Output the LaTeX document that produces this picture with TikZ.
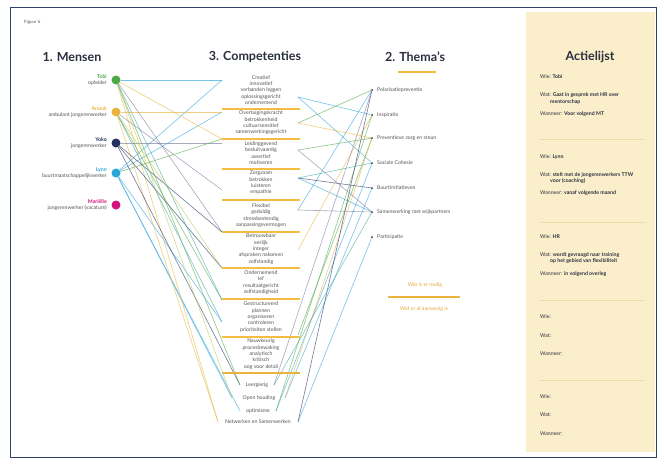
\documentclass[tikz,border=0pt]{standalone}
\usepackage{fontspec}
\setmainfont{Lato}
\definecolor{cgreen}{HTML}{4FA847}
\definecolor{cgold}{HTML}{E9B43C}
\definecolor{cnavy}{HTML}{24325E}
\definecolor{cblue}{HTML}{2AA5DC}
\definecolor{cmag}{HTML}{D4137E}
\definecolor{cgray}{HTML}{7A7A9C}
\definecolor{cteal}{HTML}{3FA7A0}
\definecolor{cyg}{HTML}{BACB4E}
\definecolor{sepc}{HTML}{F2BE3F}
\definecolor{framec}{HTML}{2E4466}
\definecolor{panelc}{HTML}{FBEFCB}
\definecolor{psep}{HTML}{EADBA8}
\definecolor{txtgray}{HTML}{555555}
\definecolor{ttlc}{HTML}{2B3040}
\definecolor{orangetxt}{HTML}{E9A93A}
\begin{document}
\begin{tikzpicture}[x=1pt,y=-1pt,
  ln/.style={line width=0.6pt, opacity=0.65},
  small/.style={font=\fontsize{5.2}{6.3}\selectfont, text=txtgray, inner sep=0pt},
  smallb/.style={font=\fontsize{5.2}{6.3}\selectfont\bfseries, inner sep=0pt},
  ttl/.style={font=\fontsize{12.5}{14}\selectfont\bfseries, text=ttlc, inner sep=0pt},
  grp/.style={small, align=center},
  sepl/.style={draw=sepc, line width=1.8pt},
  dot/.style={circle, inner sep=0pt, minimum size=9pt},
  tmark/.style={circle, fill=ttlc, inner sep=0pt, minimum size=2pt},
  act/.style={small, anchor=west, align=left, text=ttlc},
  psepl/.style={draw=psep, line width=0.6pt}
]
\useasboundingbox (0,0) rectangle (664,464);
\fill[white] (0,0) rectangle (664,464);
\draw[framec, line width=1pt] (10,7) rectangle (656,457);
\fill[panelc] (526,12) rectangle (655,452);

\node[small, anchor=west, font=\fontsize{4.5}{5}\selectfont] (fig) at (24,22) {Figuur 6};

% titles
\node[ttl] (tm) at (72,57) {1. Mensen};
\node[ttl] (tc) at (255,57) {3. Competenties};
\node[ttl] (tt) at (415,57) {2. Thema's};
\node[ttl] (ta) at (590,57) {Actielijst};
\draw[sepl, line width=1.2pt] (398,72) -- (436,72);

% people dots
\node[dot, fill=cgreen] (p1) at (116,80) {};
\node[dot, fill=cgold] (p2) at (116,112) {};
\node[dot, fill=cnavy] (p3) at (116,143) {};
\node[dot, fill=cblue] (p4) at (116,173) {};
\node[dot, fill=cmag] (p5) at (116,205) {};

% anchors left
\coordinate (a1) at (222,80);
\coordinate (a2) at (222,112);
\coordinate (a3) at (222,143);
\coordinate (a4) at (222,190);
\coordinate (a5) at (222,232);
\coordinate (a6) at (222,268);
\coordinate (a7) at (222,300);
\coordinate (a8) at (222,322);
\coordinate (a9) at (222,139);
\coordinate (b1) at (240,385);
\coordinate (b2) at (232,398);
\coordinate (b3) at (240,411);
\coordinate (b4) at (218,422);
% anchors right
\coordinate (r1) at (298,97);
\coordinate (r2) at (298,123);
\coordinate (r3) at (298,150);
\coordinate (r4) at (298,178);
\coordinate (r5) at (298,210);
\coordinate (r6) at (298,250);
\coordinate (r8) at (298,335);
\coordinate (s1) at (274,385);
\coordinate (s2) at (285,398);
\coordinate (s3) at (276,411);
\coordinate (s4) at (298,422);
% theme markers
\node[tmark] (m1) at (372,90) {};
\node[tmark] (m2) at (372,115) {};
\node[tmark] (m3) at (372,138) {};
\node[tmark] (m4) at (372,163) {};
\node[tmark] (m5) at (372,188) {};
\node[tmark] (m6) at (372,212) {};
\node[tmark] (m7) at (372,237) {};

% connectors left
\draw[ln, cblue] (p1) -- (a1);
\draw[ln, cblue] (p4) -- (a1);
\draw[ln, cblue] (p4) -- (a2);
\draw[ln, cblue] (p4) -- (a8);
\draw[ln, cblue] (p4) -- (b2);
\draw[ln, cblue] (p4) -- (b3);
\draw[ln, cgold] (p2) -- (a2);
\draw[ln, cgold] (p1) -- (b4);
\draw[ln, cgold] (p2) -- (b4);
\draw[ln, cgold] (p1) -- (a9);
\draw[ln, cgray] (p3) -- (a3);
\draw[ln, cgray] (p1) -- (a5);
\draw[ln, cgray] (p2) -- (a4);
\draw[ln, cnavy] (p3) -- (a5);
\draw[ln, cnavy] (p3) -- (a6);
\draw[ln, cnavy] (p3) -- (b1);
\draw[ln, cgreen] (p1) -- (b1);
\draw[ln, cgreen] (p2) -- (a7);
\draw[ln, cgreen] (p4) -- (a9);
\draw[ln, cyg] (p1) -- (b2);
\draw[ln, cyg] (p2) -- (a6);
\draw[ln, cteal] (p1) -- (a7);
\draw[ln, cteal] (p2) -- (a8);

% connectors right
\draw[ln, cblue] (r1) -- (m2);
\draw[ln, cblue] (r1) -- (m4);
\draw[ln, cblue] (r5) -- (m1);
\draw[ln, cblue] (m4) -- (s3);
\draw[ln, cblue] (m5) -- (s2);
\draw[ln, cblue] (m7) -- (s4);
\draw[ln, cblue] (r4) -- (m6);
\draw[ln, cgreen] (r2) -- (m1);
\draw[ln, cgreen] (r3) -- (m3);
\draw[ln, cgreen] (m2) -- (s3);
\draw[ln, cgreen] (m3) -- (r8);
\draw[ln, cgold] (r2) -- (m3);
\draw[ln, cgold] (m3) -- (s2);
\draw[ln, cgold] (r6) -- (m2);
\draw[ln, cnavy] (r4) -- (m5);
\draw[ln, cnavy] (m1) -- (s4);
\draw[ln, cgray] (r5) -- (m6);
\draw[ln, cgray] (m1) -- (s1);
\draw[ln, cgray] (r3) -- (m6);
\draw[ln, cteal] (r4) -- (m4);
\draw[ln, cteal] (m6) -- (s1);

% people labels
\node[smallb, text=cgreen, anchor=east] (n1) at (107,77) {Tobi};
\node[small, anchor=east] (l1) at (107,83) {opleider};
\node[smallb, text=cgold, anchor=east] (n2) at (107,109) {Anouk};
\node[small, anchor=east] (l2) at (107,115) {ambulant jongerenwerker};
\node[smallb, text=cnavy, anchor=east] (n3) at (107,140) {Yoko};
\node[small, anchor=east] (l3) at (107,146) {jongerenwerker};
\node[smallb, text=cblue, anchor=east] (n4) at (107,170) {Lynn};
\node[small, anchor=east] (l4) at (107,176) {buurtmaatschappelijkwerker};
\node[smallb, text=cmag, anchor=east] (n5) at (107,202) {Mariëlle};
\node[small, anchor=east] (l5) at (107,208) {jongerenwerker (vacature)};

% competency groups
\node[grp] (g1) at (261,90) {Creatief\\innovatief\\verbanden leggen\\oplossingsgericht\\ondernemend};
\node[grp] (g2) at (261,123) {Overtuigingskracht\\betrokkenheid\\cultuursensitief\\samenwerkingsgericht};
\node[grp] (g3) at (261,153) {Leidinggevend\\besluitvaardig\\assertief\\motiveren};
\node[grp] (g4) at (261,183) {Zorgzaam\\betrokken\\luisteren\\empathie};
\node[grp] (g5) at (261,215.5) {Flexibel\\geduldig\\stressbestendig\\aanpassingsvermogen};
\node[grp] (g6) at (261,249) {Betrouwbaar\\eerlijk\\integer\\afspraken nakomen\\zelfstandig};
\node[grp] (g7) at (261,282.5) {Ondernemend\\lef\\resultaatgericht\\zelfstandigheid};
\node[grp] (g8) at (261,317) {Gestructureerd\\plannen\\organiseren\\controleren\\prioriteiten stellen};
\node[grp] (g9) at (261,354) {Nauwkeurig\\procesbewaking\\analytisch\\kritisch\\oog voor detail};
\foreach \yy in {109,139,169,200,232,268,299,337}{
  \draw[sepl] (222,\yy) -- (300,\yy);
}
\draw[sepl, draw=cgold, line width=2pt] (222,373) -- (300,373);
\node[small] (c1) at (257,385) {Leergierig};
\node[small] (c2) at (259,398) {Open houding};
\node[small] (c3) at (258,411) {optimisme};
\node[small] (c4) at (258,422) {Netwerken en Samenwerken};

% themes
\node[small, anchor=west] (t1) at (377,90) {Polarisatiepreventie};
\node[small, anchor=west] (t2) at (377,115) {Inspiratie};
\node[small, anchor=west] (t3) at (377,138) {Preventieve zorg en steun};
\node[small, anchor=west] (t4) at (377,163) {Sociale Cohesie};
\node[small, anchor=west] (t5) at (377,188) {Buurtinitiatieven};
\node[small, anchor=west] (t6) at (377,212) {Samenwerking met wijkpartners};
\node[small, anchor=west] (t7) at (377,237) {Participatie};

% legend
\node[small, text=orangetxt] (lg1) at (425,285) {Wat is er nodig};
\draw[draw=cgold, line width=2pt] (388,297) -- (460,297);
\node[small, text=orangetxt] (lg2) at (424,309) {Wat er al aanwezig is};

% action list
\node[act] (w1) at (540,77) {Wie: \textbf{Tobi}};
\node[act] (w2) at (540,98.5) {Wat: \textbf{Gaat in gesprek met HR over}\\\hspace*{10pt}\textbf{mentorschap}};
\node[act] (w3) at (540,114) {Wanneer: \textbf{Voor volgend MT}};
\draw[psepl] (540,139) -- (645,139);
\node[act] (w4) at (540,157) {Wie: \textbf{Lynn}};
\node[act] (w5) at (540,178) {Wat: \textbf{stelt met de jongerenwerkers TTW}\\\hspace*{10pt}\textbf{voor (coaching)}};
\node[act] (w6) at (540,193) {Wanneer: \textbf{vanaf volgende maand}};
\draw[psepl] (540,222) -- (645,222);
\node[act] (w7) at (540,237) {Wie: \textbf{HR}};
\node[act] (w8) at (540,258) {Wat: \textbf{wordt gevraagd naar training}\\\hspace*{10pt}\textbf{op het gebied van flexibiliteit}};
\node[act] (w9) at (540,274) {Wanneer: \textbf{in volgend overleg}};
\draw[psepl] (540,300) -- (645,300);
\node[act] (w10) at (540,317) {Wie:};
\node[act] (w11) at (540,336) {Wat:};
\node[act] (w12) at (540,354) {Wanneer:};
\draw[psepl] (540,380) -- (645,380);
\node[act] (w13) at (540,397) {Wie:};
\node[act] (w14) at (540,415) {Wat:};
\node[act] (w15) at (540,434) {Wanneer:};
\end{tikzpicture}
\end{document}
